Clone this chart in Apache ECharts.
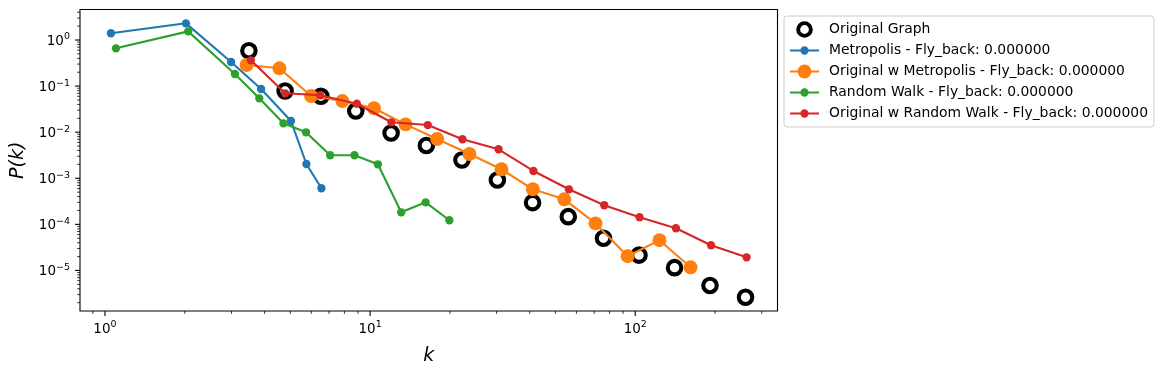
<!DOCTYPE html>
<html>
<head>
<meta charset="utf-8">
<script src="https://cdn.jsdelivr.net/npm/echarts@6/dist/echarts.min.js"></script>
<style>html,body{margin:0;padding:0;background:#fff;}#c{width:1162px;height:374px;}</style>
</head>
<body>
<div id="c"></div>
<script>
// ---- data ----
const seriesNames = [
  'Original Graph',
  'Metropolis - Fly_back: 0.000000',
  'Original w Metropolis - Fly_back: 0.000000',
  'Random Walk - Fly_back: 0.000000',
  'Original w Random Walk - Fly_back: 0.000000'
];
const kOrig = [3.49, 4.78, 6.52, 8.83, 12.0, 16.3, 22.2, 30.2, 41.0, 55.9, 75.9, 103.3, 140.7, 191.4, 260.6];
const pOrig = [0.586, 0.0783, 0.0601, 0.0288, 0.00961, 0.00515, 0.00249, 0.000918, 0.000296, 0.000147, 5.01e-5, 2.15e-5, 1.15e-5, 4.73e-6, 2.62e-6];
const kMetro = [1.053, 2.02, 2.99, 3.88, 5.03, 5.75, 6.55];
const pMetro = [1.40, 2.30, 0.333, 0.0865, 0.0175, 0.00204, 0.000607];
const kOrigMetro = [3.42, 4.55, 5.99, 7.86, 10.35, 13.6, 17.9, 23.7, 31.3, 41.1, 54.0, 70.8, 93.6, 123.4, 161.7];
const pOrigMetro = [0.287, 0.243, 0.061, 0.0475, 0.033, 0.0148, 0.00712, 0.00336, 0.00157, 0.000577, 0.00035, 0.000105, 2.04e-5, 4.54e-5, 1.17e-5];
const kRW = [1.10, 2.06, 3.09, 3.82, 4.71, 5.73, 7.07, 8.73, 10.7, 13.1, 16.2, 19.9];
const pRW = [0.66, 1.54, 0.183, 0.0544, 0.0156, 0.00995, 0.00316, 0.00316, 0.00201, 0.000183, 0.000301, 0.000123];
const kOrigRW = [3.55, 4.78, 6.48, 8.91, 12.03, 16.5, 22.3, 30.5, 41.3, 56.2, 76.4, 103.8, 142.4, 193.1, 263];
const pOrigRW = [0.363, 0.0698, 0.0632, 0.0415, 0.0164, 0.0143, 0.00702, 0.00426, 0.00144, 0.000577, 0.00026, 0.000143, 8.23e-5, 3.52e-5, 1.93e-5];

const xMajorTicks = [1, 10, 100];
const yMajorTicks = [1e-5, 1e-4, 1e-3, 1e-2, 1e-1, 1];
const X_MIN = 0.805, X_MAX = 344;
const Y_MIN = 1.32e-6, Y_MAX = 4.59;

// ---- helpers ----
function zip(a, b) { return a.map((v, i) => [v, b[i]]); }
function minorTicks(lo, hi) {
  const out = [];
  for (let e = Math.floor(Math.log10(lo)); e <= Math.ceil(Math.log10(hi)); e++) {
    for (let m = 2; m <= 9; m++) {
      const v = m * Math.pow(10, e);
      if (v >= lo && v <= hi) out.push(v);
    }
  }
  return out;
}
const FONT = 'DejaVu Sans';
const C = ['#000000', '#1f77b4', '#ff7f0e', '#2ca02c', '#d62728'];

function logLabel(v) {
  const l = Math.log10(v);
  const e = Math.round(l);
  if (Math.abs(l - e) > 1e-6) return '';
  return '{b|10}{s|' + (e < 0 ? '\u2212' : '') + Math.abs(e) + '}';
}
const labelRich = {
  b: { fontSize: 13.5, fontFamily: FONT, color: '#000', lineHeight: 16, verticalAlign: 'bottom' },
  s: { fontSize: 9.5, fontFamily: FONT, color: '#000', lineHeight: 11, verticalAlign: 'top' }
};

const xTickData = xMajorTicks.map(v => [v, Y_MIN, 1]).concat(minorTicks(X_MIN, X_MAX).map(v => [v, Y_MIN, 0]));
const yTickData = yMajorTicks.map(v => [X_MIN, v, 1]).concat(minorTicks(Y_MIN, Y_MAX).map(v => [X_MIN, v, 0]));

// legend icons: line + marker (bounding box fixed to 34x17)
const BOX = 'M0,0 M34,17 ';
function lineDot(r) {
  return 'path://' + BOX + 'M0,7.45 L29,7.45 L29,9.55 L0,9.55 Z ' +
    'M' + (14.5 - r) + ',8.5 A' + r + ',' + r + ' 0 1,1 ' + (14.5 + r) + ',8.5 A' + r + ',' + r + ' 0 1,1 ' + (14.5 - r) + ',8.5 Z';
}
const ringIcon = 'path://' + BOX +
  'M6.2,8.5 A8.3,8.3 0 1,1 22.8,8.5 A8.3,8.3 0 1,1 6.2,8.5 Z ' +
  'M10.1,8.5 A4.4,4.4 0 1,0 18.9,8.5 A4.4,4.4 0 1,0 10.1,8.5 Z';
const legendIcons = [ringIcon, lineDot(4.15), lineDot(6.9), lineDot(4.15), lineDot(4.15)];

function lineSeries(idx, k, p, size) {
  return {
    name: seriesNames[idx], type: 'line', data: zip(k, p),
    symbol: 'circle', symbolSize: size, showSymbol: true,
    lineStyle: { color: C[idx], width: 2.1 },
    itemStyle: { color: C[idx], borderWidth: 0, opacity: 1 },
    emphasis: { disabled: true }, z: 2 + idx
  };
}

const chart = echarts.init(document.getElementById('c'), null, { renderer: 'canvas' });
chart.setOption({
  animation: false,
  backgroundColor: '#fff',
  grid: { left: 80, right: 384.5, top: 9.5, bottom: 63, show: true, borderColor: '#000', borderWidth: 1.1, backgroundColor: 'transparent' },
  legend: {
    orient: 'vertical', left: 784, top: 16,
    itemWidth: 34, itemHeight: 17, itemGap: 4,
    padding: [5, 6, 5, 6],
    borderColor: '#cccccc', borderWidth: 1, borderRadius: 3,
    backgroundColor: 'rgba(255,255,255,0.8)',
    textStyle: { fontFamily: FONT, fontSize: 13.9, color: '#000' },
    selectedMode: false,
    data: seriesNames.map((n, i) => ({ name: n, icon: legendIcons[i], itemStyle: { color: C[i], borderWidth: 0, opacity: 1 } }))
  },
  xAxis: {
    type: 'log', logBase: 10, min: X_MIN, max: X_MAX,
    name: 'k', nameLocation: 'middle', nameGap: 36,
    nameTextStyle: { fontFamily: FONT, fontSize: 19, fontStyle: 'italic', color: '#000' },
    axisLine: { show: false }, axisTick: { show: false }, splitLine: { show: false },
    axisLabel: { formatter: logLabel, rich: labelRich, margin: 9, color: '#000' }
  },
  yAxis: {
    type: 'log', logBase: 10, min: Y_MIN, max: Y_MAX,
    name: 'P(k)', nameLocation: 'middle', nameGap: 45,
    nameTextStyle: { fontFamily: FONT, fontSize: 19, fontStyle: 'italic', color: '#000' },
    axisLine: { show: false }, axisTick: { show: false }, splitLine: { show: false },
    axisLabel: { formatter: logLabel, rich: labelRich, margin: 10, color: '#000' }
  },
  series: [
    {
      name: seriesNames[0], type: 'scatter', data: zip(kOrig, pOrig),
      symbol: 'circle', symbolSize: 13.5,
      itemStyle: { color: 'rgba(0,0,0,0)', borderColor: '#000', borderWidth: 4.1, opacity: 1 },
      emphasis: { disabled: true }, z: 1
    },
    lineSeries(1, kMetro, pMetro, 8.3),
    lineSeries(2, kOrigMetro, pOrigMetro, 13.9),
    lineSeries(3, kRW, pRW, 8.3),
    lineSeries(4, kOrigRW, pOrigRW, 8.3),
    {
      type: 'custom', coordinateSystem: 'cartesian2d', data: xTickData, clip: false, silent: true, z: 10,
      encode: { x: 0, y: 1 },
      renderItem: function (params, api) {
        const p = api.coord([api.value(0), api.value(1)]);
        const major = api.value(2) === 1;
        const len = major ? 4.9 : 2.8;
        return { type: 'line', shape: { x1: p[0], y1: p[1], x2: p[0], y2: p[1] + len },
          style: { stroke: '#000', lineWidth: major ? 1.1 : 0.8 } };
      }
    },
    {
      type: 'custom', coordinateSystem: 'cartesian2d', data: yTickData, clip: false, silent: true, z: 10,
      encode: { x: 0, y: 1 },
      renderItem: function (params, api) {
        const p = api.coord([api.value(0), api.value(1)]);
        const major = api.value(2) === 1;
        const len = major ? 4.9 : 2.8;
        return { type: 'line', shape: { x1: p[0], y1: p[1], x2: p[0] - len, y2: p[1] },
          style: { stroke: '#000', lineWidth: major ? 1.1 : 0.8 } };
      }
    }
  ]
});
</script>
</body>
</html>
